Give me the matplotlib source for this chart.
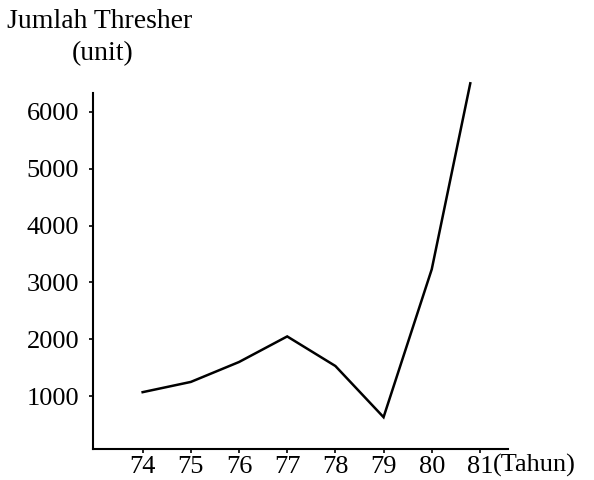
import matplotlib.pyplot as plt

# jumlah thresher per tahun
tahun = [74, 75, 76, 77, 78, 79, 80, 80.8]
jumlah = [1070, 1250, 1600, 2050, 1530, 630, 3230, 6500]
xticks = [74, 75, 76, 77, 78, 79, 80, 81]
yticks = [1000, 2000, 3000, 4000, 5000, 6000]

plt.rcParams['font.family'] = ['Liberation Serif', 'DejaVu Serif']

fig = plt.figure(figsize=(5.94, 4.8), dpi=100)
ax = fig.add_axes([0.1566, 0.0645, 0.6984, 0.7418])

ax.plot(tahun, jumlah, color='black', lw=1.8, clip_on=False, solid_joinstyle='miter')

ax.set_xlim(72.97, 81.58)
ax.set_ylim(70, 6330)
ax.set_xticks(xticks)
ax.set_xticklabels([str(t) for t in xticks])
ax.set_yticks(yticks)
ax.set_yticklabels([str(v) for v in yticks])
ax.tick_params(axis='both', labelsize=19, length=3, width=1.2, direction='out', color='black')
ax.tick_params(axis='y', pad=7)
ax.tick_params(axis='x', pad=2)

for s in ['top', 'right']:
    ax.spines[s].set_visible(False)
for s in ['left', 'bottom']:
    ax.spines[s].set_linewidth(1.5)

fig.text(0.012, 0.955, 'Jumlah Thresher', fontsize=20, va='center', ha='left')
fig.text(0.12, 0.888, '(unit)', fontsize=20, va='center', ha='left')
ax.text(81.27, -0.013, '(Tahun)', transform=ax.get_xaxis_transform(),
        fontsize=19, va='top', ha='left')

fig.savefig('out.png', dpi=100)
